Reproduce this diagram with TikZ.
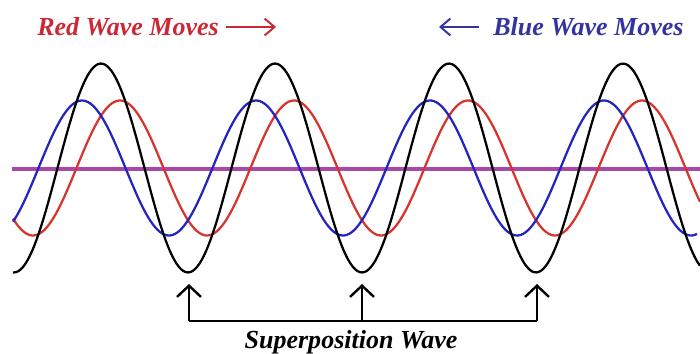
\documentclass[tikz,border=0pt]{standalone}
\usepackage{fontspec}
\setmainfont{Liberation Serif}
\usepackage{xcolor}
\usetikzlibrary{arrows.meta,positioning}

\definecolor{wavered}{RGB}{214,52,44}
\definecolor{waveblue}{RGB}{36,36,190}
\definecolor{axispurple}{RGB}{168,72,168}
\definecolor{labelred}{RGB}{204,40,52}
\definecolor{labelblue}{RGB}{52,52,160}

\begin{document}
\begin{tikzpicture}[
    x=0.025cm, y=-0.025cm,
    wave/.style={line width=1.6pt, smooth, samples=300},
    wavelabel/.style={font=\fontsize{18.5}{20}\selectfont\bfseries\itshape, inner sep=0pt},
    movearrow/.style={-{Straight Barb[length=7pt,width=12pt]}, line width=1.4pt},
    uparrow/.style={-{Straight Barb[length=8pt,width=17pt]}, line width=1.7pt}
]
\useasboundingbox (0,0) rectangle (700,354);

% Axis
\draw[axispurple, line width=2.2pt] (12,169) -- (700,169);

% Red and blue waves (period 174px)
\draw[wave, wavered] plot[domain=13:700] (\x, {168-67.5*cos(2.069*(\x-120))});
\draw[wave, waveblue] plot[domain=13:697] (\x, {168-67.5*cos(2.069*(\x-82))});

% Superposition
\draw[wave, black] plot[domain=13:700]
    (\x, {168-67.5*cos(2.069*(\x-120))-67.5*cos(2.069*(\x-82))});

% Top labels
\node[wavelabel, text=labelred, anchor=west] (redlbl) at (37,27) {Red Wave Moves};
\coordinate (redtail) at (226,27);
\coordinate (redhead) at (276,27);
\draw[movearrow, labelred] (redtail) -- (redhead);

\node[wavelabel, text=labelblue, anchor=west] (bluelbl) at (493,27) {Blue Wave Moves};
\coordinate (bluetail) at (479,27);
\coordinate (bluehead) at (439,27);
\draw[movearrow, labelblue] (bluetail) -- (bluehead);

% Troughs of superposition
\coordinate (tr1) at (189,284);
\coordinate (tr2) at (362,284);
\coordinate (tr3) at (537,284);
\coordinate (b1) at (189,321);
\coordinate (b2) at (362,321);
\coordinate (b3) at (537,321);

\draw[line width=1.6pt] (b1) -- (b3);
\draw[uparrow] (b1) -- (tr1);
\draw[uparrow] (b2) -- (tr2);
\draw[uparrow] (b3) -- (tr3);

\node[wavelabel] (suplbl) at (351,342) {Superposition Wave};

\end{tikzpicture}
\end{document}
